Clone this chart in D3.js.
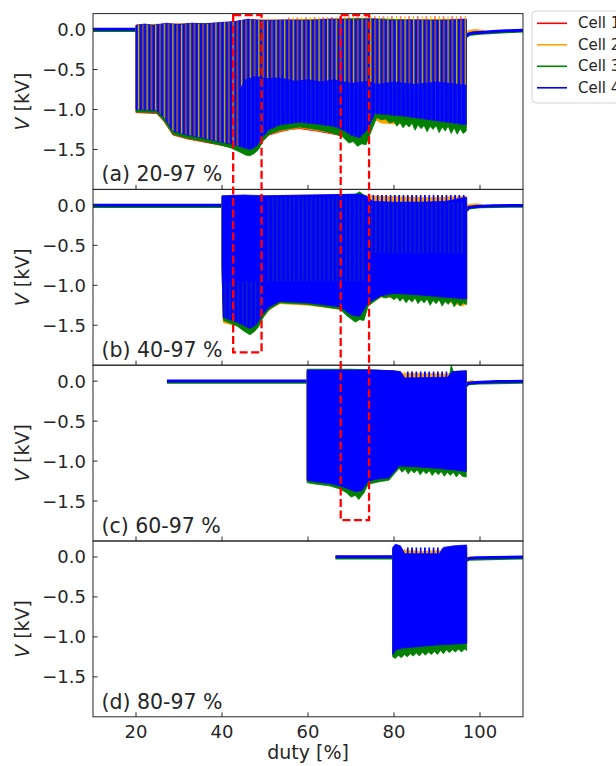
<!DOCTYPE html>
<html><head><meta charset="utf-8">
<script src="https://cdn.jsdelivr.net/npm/d3@7"></script>
<style>body{margin:0;background:#fff;} svg{display:block;font-family:"DejaVu Sans",sans-serif;}</style>
</head><body><svg id="chart" width="616" height="766"></svg>
<script>
// ---------- data ----------
const xDomain = [10, 110];
const yDomain = [-2.0, 0.2];
const xTicks = [20, 40, 60, 80, 100];
const yTicks = [0.0, -0.5, -1.0, -1.5];
const cellNames = ["Cell 1", "Cell 2", "Cell 3", "Cell 4"];
const panelLabels = ["(a) 20-97 %", "(b) 40-97 %", "(c) 60-97 %", "(d) 80-97 %"];
const preStart = [10, 10, 27.2, 66.4];
const pulseStart = [20, 40, 59.8, 79.7];
const preLevel = [0.0, 0.0, -0.015, 0.003];

// panel (a) envelopes [duty, kV]
const aUp1 = [[20,0.06],[30,0.07],[40,0.08],[46,0.12],[55,0.12],[65,0.13],[75,0.13],[85,0.12],[96.8,0.13]];
const aUp2 = [[20,0.06],[30,0.07],[40,0.08],[46,0.12],[55,0.12],[65,0.13],[75,0.13],[85,0.12],[96.8,0.13]];
const aUp3 = [[20,0.05],[40,0.08],[50,0.11],[60,0.12],[72,0.14],[85,0.12],[96.8,0.12]];
const aUp4 = [[20,0.05],[22,0.07],[24,0.05],[27,0.08],[30,0.06],[33,0.08],[36,0.07],[40,0.09],[43,0.10],[46,0.13],[50,0.11],[55,0.12],[60,0.11],[65,0.13],[70,0.12],[75,0.13],[80,0.11],[85,0.12],[90,0.11],[96.8,0.13]];
const aLow1 = [[20,-1.04],[24.8,-1.05],[26.5,-1.15],[28.6,-1.32],[32,-1.37],[36,-1.41],[40,-1.45],[42,-1.47],[44,-1.50],[46.5,-1.54],[48,-1.50],[49.5,-1.38],[51,-1.32],[53.5,-1.28],[56,-1.25],[58,-1.24],[62,-1.27],[66,-1.31],[68,-1.33],[70,-1.36],[72,-1.38],[74,-1.32],[75.5,-1.12],[77,-1.16],[80,-1.17],[84,-1.16],[88,-1.18],[92,-1.20],[96.8,-1.22]];
const aLow2 = [[20,-1.03],[24.8,-1.04],[26.5,-1.14],[28.6,-1.31],[32,-1.36],[36,-1.40],[40,-1.44],[42,-1.46],[44,-1.50],[46.5,-1.55],[48,-1.51],[49.5,-1.38],[51,-1.31],[53.5,-1.27],[58,-1.23],[62,-1.26],[66,-1.30],[68,-1.32],[70,-1.37],[72,-1.39],[74,-1.31],[75.5,-1.12],[77,-1.17],[80,-1.18],[84,-1.17],[88,-1.19],[92,-1.21],[96.8,-1.23]];
const aLow3 = [[20,-1.03],[24.8,-1.04],[26.5,-1.14],[28.6,-1.31],[32,-1.36],[36,-1.40],[40,-1.45],[42,-1.48],[44,-1.53],[45.5,-1.57],[46.5,-1.58],[47.5,-1.55],[48.5,-1.50],[49.5,-1.40],[51,-1.31],[53.5,-1.26],[58,-1.22],[62,-1.25],[66,-1.30],[68,-1.34],[69.5,-1.42],[70.5,-1.40],[71.5,-1.46],[72.5,-1.43],[73.5,-1.44],[74.5,-1.30],[76,-1.10],[77,-1.13],[78,-1.12],[79,-1.17],[80,-1.15],[80.7,-1.21],[81.4,-1.16],[82.1,-1.23],[82.8,-1.18],[83.5,-1.22],[84.2,-1.17],[84.9,-1.26],[85.6,-1.19],[86.3,-1.24],[87,-1.20],[87.7,-1.28],[88.4,-1.21],[89.1,-1.25],[89.8,-1.20],[90.5,-1.29],[91.2,-1.22],[91.9,-1.27],[92.6,-1.21],[93.3,-1.30],[94,-1.23],[94.7,-1.31],[95.4,-1.24],[96.1,-1.30],[96.8,-1.27]];
const aLow4 = [[20,-1.00],[24.8,-1.01],[26.5,-1.10],[28.6,-1.27],[32,-1.32],[36,-1.36],[40,-1.41],[42,-1.43],[44,-1.46],[46.5,-1.50],[48,-1.46],[49.5,-1.34],[51,-1.25],[53.5,-1.19],[58,-1.16],[62,-1.18],[66,-1.21],[68,-1.25],[70,-1.32],[72,-1.35],[74,-1.24],[75.5,-1.05],[78,-1.06],[82,-1.08],[86,-1.11],[90,-1.14],[94,-1.17],[96.8,-1.19]];
const aBandTop = [[44,-0.75],[45.5,-0.62],[48,-0.58],[50,-0.61],[53.5,-0.60],[57,-0.64],[60,-0.62],[63,-0.65],[66,-0.62],[70,-0.67],[74,-0.64],[76,-0.68],[80,-0.65],[85,-0.68],[90,-0.65],[96.8,-0.69]];
const aTipTop = [[55,0.15],[66,0.16],[80,0.17],[96.8,0.17]];
const aTipBot = [[55,0.12],[60,0.11],[65,0.13],[70,0.12],[75,0.13],[80,0.11],[85,0.12],[90,0.11],[96.8,0.13]];
const aPost2 = [[96.9,-0.05],[97.4,-0.02],[99,-0.01],[101,-0.02]];
const aPost3 = [[96.9,-0.09],[97.4,-0.065],[100,-0.05],[104,-0.035],[110,-0.02]];
const aPost4 = [[96.9,-0.08],[97.4,-0.055],[98.5,-0.04],[100,-0.035],[103,-0.025],[106,-0.015],[110,-0.008]];

// panel (b)
const bUp1 = [[40,0.11],[73,0.11],[75,0.03],[96.9,0.03]];
const bUp2 = [[40,0.12],[50,0.12],[60,0.13],[72,0.13],[74,0.12],[80,0.11],[88,0.10],[96.9,0.11]];
const bUp3 = [[40,0.11],[60,0.12],[71,0.14],[72,0.17],[73,0.13],[75,0.03],[96.9,0.03]];
const bUp4 = [[40,0.12],[45,0.13],[50,0.12],[60,0.13],[72,0.14],[73.5,0.12],[75,0.05],[80,0.04],[86,0.04],[92,0.05],[96.5,0.10],[96.9,0.10]];
const bLow1 = [[40,-0.75],[40.3,-1.41],[46.5,-1.55],[49.5,-1.37],[53.5,-1.21],[67.5,-1.28],[72,-1.40],[74,-1.23],[77,-1.13],[96.9,-1.18]];
const bLow2 = [[40,-0.80],[40.3,-1.47],[42,-1.49],[43.5,-1.50],[45,-1.55],[46.5,-1.58],[48,-1.53],[49.5,-1.40],[51,-1.30],[53.5,-1.23],[60,-1.25],[67.5,-1.30],[71,-1.41],[74,-1.24],[77,-1.15],[86,-1.16],[92,-1.20],[96,-1.26],[96.9,-1.23]];
const bLow3 = [[40,-0.78],[40.3,-1.44],[43.5,-1.51],[45,-1.57],[46.5,-1.62],[47.5,-1.58],[48.5,-1.52],[49.5,-1.41],[51,-1.30],[53.5,-1.22],[60,-1.24],[67.5,-1.30],[69,-1.38],[70,-1.42],[71,-1.46],[72,-1.43],[73,-1.44],[74,-1.26],[77,-1.14],[78,-1.16],[79,-1.14],[80,-1.18],[80.7,-1.15],[81.4,-1.20],[82.1,-1.16],[82.8,-1.22],[83.5,-1.17],[84.2,-1.21],[84.9,-1.16],[85.6,-1.23],[86.3,-1.18],[87,-1.22],[87.7,-1.17],[88.4,-1.25],[89.1,-1.19],[89.8,-1.23],[90.5,-1.18],[91.2,-1.26],[91.9,-1.20],[92.6,-1.24],[93.3,-1.19],[94,-1.27],[94.7,-1.21],[95.4,-1.26],[96.1,-1.22],[96.9,-1.24]];
const bLow4 = [[40,-0.75],[40.3,-1.40],[43.5,-1.46],[46.5,-1.54],[48,-1.49],[49.5,-1.36],[51,-1.27],[53.5,-1.20],[60,-1.22],[67.5,-1.27],[70,-1.37],[72,-1.39],[74,-1.22],[77,-1.13],[80,-1.10],[86,-1.12],[92,-1.15],[96.9,-1.17]];
const bStripe1Top = [[40.3,-0.95],[49.5,-0.95]];
const bStripe1Bot = [[40.3,-1.40],[43.5,-1.46],[46.5,-1.54],[48,-1.49],[49.5,-1.36]];
const bStripe2Top = [[50,0.10],[73.5,0.10]];
const bStripe2Bot = [[50,-0.95],[73.5,-0.95]];
const bStripe3Top = [[74.5,0.04],[96.6,0.04]];
const bStripe3Bot = [[74.5,-0.60],[96.6,-0.60]];
const bSpikeTop = [[74.5,0.13],[96.6,0.13]];
const bSpikeBot = [[74.5,0.03],[96.6,0.03]];
const bPost2 = [[96.9,-0.03],[97.4,0.0],[99,0.01],[100.5,0.0]];
const bPost3 = [[96.9,-0.07],[97.4,-0.035],[100,-0.02],[110,-0.012]];
const bPost4 = [[96.9,-0.06],[97.4,-0.025],[99,-0.015],[103,-0.005],[110,0.0]];

// panel (c)
const cUp1 = [[59.8,0.12],[81,0.12],[82.5,0.03],[92.5,0.03],[96.8,0.12]];
const cUp2 = [[59.8,0.13],[70,0.14],[80,0.13],[82,0.10],[92,0.09],[96.8,0.12]];
const cUp3 = [[59.8,0.15],[70,0.15],[76,0.14],[81,0.12],[82.5,0.03],[92.8,0.03],[93.3,0.20],[93.8,0.12],[96.8,0.13]];
const cUp4 = [[59.8,0.14],[65,0.14],[70,0.14],[75,0.14],[80,0.13],[81.5,0.12],[82.5,0.04],[92.5,0.05],[93.5,0.12],[96.8,0.13]];
const cLow1 = [[59.8,-1.24],[67.5,-1.31],[71,-1.38],[74,-1.25],[78.8,-1.21],[81.2,-1.06],[96.8,-1.13]];
const cLow2 = [[59.8,-1.25],[67.5,-1.32],[71,-1.40],[74,-1.26],[78.8,-1.22],[81.2,-1.07],[96.8,-1.14]];
const cLow3 = [[59.8,-1.27],[62,-1.29],[65,-1.31],[67.5,-1.35],[69,-1.40],[70,-1.45],[71,-1.43],[71.8,-1.48],[73,-1.40],[74,-1.29],[76.5,-1.26],[78.8,-1.24],[81.2,-1.09],[81.9,-1.14],[82.6,-1.10],[83.3,-1.16],[84,-1.11],[84.7,-1.15],[85.4,-1.11],[86.1,-1.17],[86.8,-1.12],[87.5,-1.16],[88.2,-1.12],[88.9,-1.18],[89.6,-1.13],[90.3,-1.17],[91,-1.13],[91.7,-1.19],[92.4,-1.14],[93.1,-1.18],[93.8,-1.14],[94.5,-1.20],[95.2,-1.15],[95.9,-1.19],[96.8,-1.20]];
const cLow4 = [[59.8,-1.24],[62,-1.26],[65,-1.28],[67.5,-1.31],[69,-1.34],[71,-1.38],[72.5,-1.37],[74,-1.25],[76.5,-1.22],[78.8,-1.21],[81.2,-1.06],[85,-1.07],[90,-1.09],[94,-1.11],[96.8,-1.13]];
const cSpikeTop = [[82.5,0.12],[92.5,0.12]];
const cSpikeBot = [[82.5,0.03],[92.5,0.03]];
const cPost2 = [[96.8,-0.03],[97.3,-0.01],[98.5,0.0]];
const cPost3 = [[96.8,-0.06],[97.3,-0.035],[100,-0.025],[110,-0.015]];
const cPost4 = [[96.8,-0.05],[97.3,-0.025],[99,-0.015],[104,-0.005],[110,0.0]];

// panel (d)
const dUp1 = [[79.7,0.10],[81,0.08],[82,0.03],[91,0.03],[92,0.10],[96.9,0.10]];
const dUp2 = [[79.7,0.10],[82,0.09],[86,0.07],[90,0.08],[96.9,0.10]];
const dUp3 = [[79.7,0.10],[80,0.12],[81,0.08],[82,0.03],[91,0.03],[92,0.10],[96.9,0.12]];
const dUp4 = [[79.7,0.12],[80.3,0.16],[81.5,0.14],[82.5,0.04],[90.5,0.04],[91.5,0.12],[94,0.14],[96.9,0.15]];
const dLow1 = [[79.7,-1.22],[80.5,-1.17],[86,-1.13],[96.9,-1.08]];
const dLow2 = [[79.7,-1.22],[80.5,-1.17],[86,-1.13],[96.9,-1.08]];
const dLow3 = [[79.7,-1.25],[80.3,-1.27],[81,-1.23],[81.7,-1.26],[82.4,-1.22],[83.1,-1.25],[83.8,-1.21],[84.5,-1.24],[85.2,-1.20],[85.9,-1.24],[86.6,-1.19],[87.3,-1.23],[88,-1.19],[88.7,-1.22],[89.4,-1.18],[90.1,-1.22],[90.8,-1.17],[91.5,-1.21],[92.2,-1.16],[92.9,-1.20],[93.6,-1.16],[94.3,-1.19],[95,-1.15],[95.7,-1.19],[96.4,-1.15],[96.9,-1.17]];
const dLow4 = [[79.7,-1.22],[80.5,-1.16],[82,-1.14],[86,-1.12],[90,-1.10],[94,-1.09],[96.9,-1.08]];
const dSpikeTop = [[82.5,0.12],[91,0.12]];
const dSpikeBot = [[82.5,0.03],[91,0.03]];
const dPost2 = [[96.9,-0.03],[97.3,-0.01],[98.5,0.0]];
const dPost3 = [[96.9,-0.05],[97.3,-0.03],[110,-0.015]];
const dPost4 = [[96.9,-0.04],[97.3,-0.02],[99,-0.01],[110,0.0]];

// dashed highlight boxes: duty range, top (panel a) and bottom value + bottom panel index
const boxDuty = [[42.6, 49.2], [67.6, 74.2]];
const boxTop = [0.18, 0.18];
const boxBottom = [-1.84, -1.74];
const boxBottomPanel = [1, 2];

// ---------- tables built from the arrays ----------
const uppers = [[aUp1,aUp2,aUp3,aUp4],[bUp1,bUp2,bUp3,bUp4],[cUp1,cUp2,cUp3,cUp4],[dUp1,dUp2,dUp3,dUp4]];
const lowers = [[aLow1,aLow2,aLow3,aLow4],[bLow1,bLow2,bLow3,bLow4],[cLow1,cLow2,cLow3,cLow4],[dLow1,dLow2,dLow3,dLow4]];
const posts = [[aPost2,aPost3,aPost4],[bPost2,bPost3,bPost4],[cPost2,cPost3,cPost4],[dPost2,dPost3,dPost4]];
const overlays = [
  [{top:aUp4, bot:aLow4, fill:"url(#patA)"}, {top:aBandTop, bot:aLow4.filter(d=>d[0]>=44), fill:"url(#patBand)"},
   {top:aTipTop, bot:aTipBot, fill:"url(#patT)"}],
  [{top:bStripe1Top, bot:bStripe1Bot, fill:"url(#patB)"}, {top:bStripe2Top, bot:bStripe2Bot, fill:"url(#patB)"},
   {top:bStripe3Top, bot:bStripe3Bot, fill:"url(#patB)"}, {top:bSpikeTop, bot:bSpikeBot, fill:"url(#patS)"}],
  [{top:cSpikeTop, bot:cSpikeBot, fill:"url(#patS)"}],
  [{top:dSpikeTop, bot:dSpikeBot, fill:"url(#patS)"}]
];

// ---------- drawing ----------
const cellColors = ["#ff0000", "#ffa500", "#008000", "#0000ff"];
const textColor = "#262626";
const L = 93, R = 523, PT = 13.6, PH = 175.8;
const svg = d3.select("#chart");
const defs = svg.append("defs");
const x = d3.scaleLinear().domain(xDomain).range([L, R]);
const yScales = [0,1,2,3].map(i => d3.scaleLinear().domain(yDomain).range([PT + PH*(i+1), PT + PH*i]));

function pattern(id, w, rects) {
  const p = defs.append("pattern").attr("id", id).attr("patternUnits", "userSpaceOnUse")
    .attr("x", x(20)).attr("y", 0).attr("width", w).attr("height", 766);
  rects.forEach(r => p.append("rect").attr("x", r[0]).attr("y", 0).attr("width", r[1]).attr("height", 766).attr("fill", r[2]));
}
const pw = x(21) - x(20);
pattern("patA", 2*pw, [[0, 2*pw, "#0000ff"], [1.8, 1.2, "#f0a010"], [3.0, 0.9, "#2f7a2a"], [6.0, 1.0, "#e8401a"], [7.0, 0.9, "#5a8a28"]]);
pattern("patBand", 2*pw, [[0, 2*pw, "#0000ff"], [2.6, 0.6, "#1d3fa0"], [6.9, 0.6, "#1d3fa0"]]);
pattern("patT", 2*pw, [[1.9, 1.0, "#ffa500"], [6.1, 1.0, "#ff2000"]]);
pattern("patB", pw, [[0, pw, "#0000ff"], [3.0, 0.8, "#183f82"]]);
pattern("patS", pw, [[0, 1.7, "#0000ff"]]);

[0,1,2,3].forEach(i => {
  defs.append("clipPath").attr("id", "clip" + i).append("rect")
    .attr("x", L).attr("y", PT + PH*i).attr("width", R - L).attr("height", PH);
});

function polyPath(y, top, bot) {
  const pts = top.concat(bot.slice().reverse());
  return d3.line().x(d => x(d[0])).y(d => y(d[1]))(pts) + "Z";
}

[0,1,2,3].forEach(i => {
  const y = yScales[i];
  const g = svg.append("g").attr("clip-path", `url(#clip${i})`);
  const line = d3.line().x(d => x(d[0])).y(d => y(d[1]));
  [0,1,2,3].forEach(c => {
    g.append("path").attr("d", line([[preStart[i], preLevel[c]], [pulseStart[i]+0.2, preLevel[c]]]))
      .attr("fill", "none").attr("stroke", cellColors[c]).attr("stroke-width", c === 3 ? 3 : 2.6);
  });
  posts[i].forEach((p, k) => {
    g.append("path").attr("d", line(p)).attr("fill", "none")
      .attr("stroke", cellColors[k+1]).attr("stroke-width", k === 2 ? 3 : 2.6);
  });
  [0,1,2,3].forEach(c => {
    g.append("path").attr("d", polyPath(y, uppers[i][c], lowers[i][c]))
      .attr("fill", cellColors[c]).attr("stroke", cellColors[c]).attr("stroke-width", 0.8);
  });
  overlays[i].forEach(o => {
    g.append("path").attr("d", polyPath(y, o.top, o.bot)).attr("fill", o.fill);
  });
});

// frames, ticks, labels
[0,1,2,3].forEach(i => {
  const y = yScales[i];
  const top = PT + PH*i, bot = PT + PH*(i+1);
  svg.append("rect").attr("x", L).attr("y", top).attr("width", R - L).attr("height", PH)
    .attr("fill", "none").attr("stroke", textColor).attr("stroke-width", 1);
  yTicks.forEach(t => {
    svg.append("line").attr("x1", L).attr("x2", L + 4.5).attr("y1", y(t)).attr("y2", y(t))
      .attr("stroke", textColor).attr("stroke-width", 1);
    svg.append("text").attr("x", 86).attr("y", y(t)).attr("text-anchor", "end")
      .attr("dominant-baseline", "central").attr("font-size", 18).attr("fill", textColor)
      .text(d3.format(".1f")(t).replace("-", "\u2212"));
  });
  xTicks.forEach(t => {
    svg.append("line").attr("x1", x(t)).attr("x2", x(t)).attr("y1", bot).attr("y2", bot - 4.5)
      .attr("stroke", textColor).attr("stroke-width", 1);
  });
  svg.append("text").attr("x", 101.5).attr("y", bot - 8).attr("font-size", 20.5).attr("fill", textColor)
    .text(panelLabels[i]);
  const yl = svg.append("text").attr("transform", `translate(21.5,${(top+bot)/2}) rotate(-90)`)
    .attr("text-anchor", "middle").attr("dominant-baseline", "central").attr("font-size", 19).attr("fill", textColor);
  yl.append("tspan").attr("font-style", "italic").text("V");
  yl.append("tspan").text(" [kV]");
});
const lastBot = PT + PH*4;
xTicks.forEach(t => {
  svg.append("text").attr("x", x(t)).attr("y", lastBot + 21).attr("text-anchor", "middle")
    .attr("font-size", 18).attr("fill", textColor).text(t);
});
svg.append("text").attr("x", (L+R)/2).attr("y", 759).attr("text-anchor", "middle")
  .attr("font-size", 19).attr("fill", textColor).text("duty [%]");

// dashed highlight boxes
boxDuty.forEach((b, k) => {
  const yT = yScales[0](boxTop[k]), yB = yScales[boxBottomPanel[k]](boxBottom[k]);
  svg.append("path")
    .attr("d", `M${x(b[0])},${yT}H${x(b[1])}V${yB}H${x(b[0])}Z`)
    .attr("fill", "none").attr("stroke", "#ff0000").attr("stroke-width", 2.3)
    .attr("stroke-dasharray", "8,3.5");
});

// legend (clipped at the right edge, as in the reference)
const lg = svg.append("g");
lg.append("rect").attr("x", 532).attr("y", 11).attr("width", 110).attr("height", 92).attr("rx", 4)
  .attr("fill", "#fff").attr("stroke", "#d4d4d4").attr("stroke-width", 1);
cellNames.forEach((n, k) => {
  const yy = 23.3 + k*21.5;
  lg.append("line").attr("x1", 537).attr("x2", 567).attr("y1", yy).attr("y2", yy)
    .attr("stroke", cellColors[k]).attr("stroke-width", 1.6);
  lg.append("text").attr("x", 578).attr("y", yy).attr("dominant-baseline", "central")
    .attr("font-size", 15).attr("fill", textColor).text(n);
});
</script></body></html>
